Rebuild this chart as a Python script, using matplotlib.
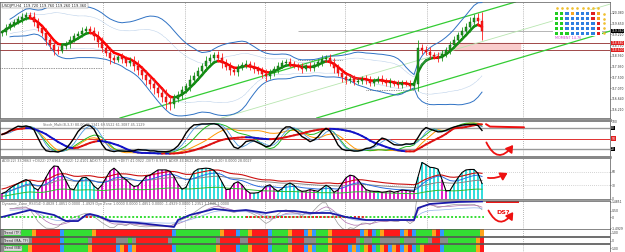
import numpy as np
import pandas as pd
import matplotlib
matplotlib.use("Agg")
import matplotlib.pyplot as plt
from matplotlib.colors import ListedColormap
from matplotlib.collections import LineCollection
from matplotlib.lines import Line2D

W, H = 625, 252

# H4 closes, one per bar
closes = [
    119.32, 119.48, 119.64, 119.72, 119.84, 119.92, 120.00, 119.92, 119.72, 119.48,
    119.28, 119.00, 118.80, 118.60, 118.56, 118.76, 118.84, 119.00, 119.16, 119.24,
    119.36, 119.44, 119.36, 119.16, 118.92, 118.68, 118.48, 118.28, 118.20, 118.32,
    118.24, 118.08, 118.16, 117.96, 117.80, 117.60, 117.40, 117.24, 117.08, 116.88,
    116.72, 116.52, 116.44, 116.64, 116.80, 117.00, 117.16, 117.40, 117.56, 117.76,
    117.96, 118.16, 118.28, 118.40, 118.28, 118.08, 117.92, 117.80, 117.72, 117.88,
    118.00, 118.04, 117.92, 117.84, 117.76, 117.64, 117.56, 117.68, 117.84, 117.96,
    118.08, 118.12, 118.04, 117.96, 117.92, 117.84, 117.96, 117.88, 118.00, 118.12,
    118.24, 118.28, 118.08, 117.88, 117.68, 117.52, 117.40, 117.44, 117.32, 117.36,
    117.44, 117.40, 117.28, 117.36, 117.44, 117.36, 117.28, 117.32, 117.24, 117.20,
    117.28, 117.24, 117.16, 117.24, 118.68, 118.60, 118.52, 118.40, 118.36, 118.28,
    118.44, 118.60, 118.80, 119.00, 119.20, 119.36, 119.52, 119.72, 119.88, 119.76,
    119.36,
]
# wick length beyond the body
spread = [
    0.10, 0.14, 0.08, 0.12, 0.10, 0.16, 0.12, 0.10, 0.18, 0.14,
    0.12, 0.20, 0.16, 0.22, 0.14, 0.10, 0.12, 0.16, 0.10, 0.12,
    0.14, 0.10, 0.12, 0.16, 0.20, 0.18, 0.14, 0.24, 0.12, 0.10,
    0.16, 0.12, 0.14, 0.18, 0.22, 0.16, 0.20, 0.18, 0.24, 0.16,
    0.22, 0.30, 0.26, 0.18, 0.14, 0.16, 0.12, 0.18, 0.14, 0.16,
    0.12, 0.18, 0.14, 0.10, 0.16, 0.20, 0.14, 0.18, 0.12, 0.16,
    0.10, 0.14, 0.12, 0.18, 0.12, 0.16, 0.20, 0.14, 0.12, 0.16,
    0.10, 0.12, 0.14, 0.10, 0.12, 0.16, 0.10, 0.14, 0.12, 0.10,
    0.16, 0.12, 0.14, 0.18, 0.14, 0.20, 0.16, 0.12, 0.14, 0.10,
    0.12, 0.16, 0.14, 0.12, 0.10, 0.14, 0.12, 0.16, 0.10, 0.14,
    0.12, 0.10, 0.14, 0.12, 0.30, 0.16, 0.14, 0.18, 0.12, 0.16,
    0.14, 0.12, 0.16, 0.14, 0.12, 0.16, 0.14, 0.18, 0.16, 0.20,
    0.36,
]

price_ticks = [120.08, 119.65, 119.22, 118.79, 118.36, 117.93, 117.50, 117.07, 116.64, 116.21]
last_price = 119.36
resist_levels = [118.88, 118.60]
support_segments = [(117.88, -0.5, 25), (118.20, 74, 85), (117.00, 91, 103)]
channel_upper = [(29.5, 115.88), (127.5, 120.48)]
channel_lower = [(77.0, 115.80), (151.25, 119.32)]
channel_mid = [(74.5, 116.80), (151.25, 120.40)]
grid_bars = [5, 25.25, 45.75, 65.75, 85.75, 106.25, 130.25]

# dynamic zone line, read at some bars
dyn_idx = [0, 7, 13, 16, 19, 21, 22, 24, 27, 34, 41, 43, 44, 47, 53, 58, 61, 66,
           69, 73, 77, 82, 86, 91, 96, 103, 104, 107, 114, 120]
dyn_val = [-0.23, 0.57, 0.00, -0.69, -0.69, 0.00, 0.11, -0.11, -0.69, -0.91, -1.26,
           -1.37, -0.57, 0.00, 0.69, 0.46, 0.57, 0.23, 0.46, 0.46, 0.23, 0.23, -0.23,
           -0.57, -0.57, -0.57, 0.80, 1.26, 1.49, 1.55]
dyn_level = -0.23
dyn_red_spans = [(20, 22.5), (61, 86), (88, 91)]

# currency strength grid: G green, B blue, O orange, R red
heat_rows = ["GGBOBBBRO", "GGBBBBBRO", "GGBBBBBBR", "GGBBBBBBR", "GGGBBBBBR"]

close = pd.Series(closes)
spr = pd.Series(spread)
opn = close.shift(1).fillna(close.iloc[0] - 0.06)
high = np.maximum(opn, close) + spr
low = np.minimum(opn, close) - spr
idx = np.arange(len(close))

fig = plt.figure(figsize=(6.25, 2.52), dpi=100)
fig.patch.set_facecolor("white")

LBL = 2.2


def fax(x0, y0, x1, y1):
    ax = fig.add_axes([x0 / W, 1 - y1 / H, (x1 - x0) / W, (y1 - y0) / H])
    ax.set_xlim(-0.5, 152)
    ax.set_xticks([])
    ax.yaxis.tick_right()
    ax.tick_params(axis="y", labelsize=LBL, length=1.0, width=0.4, pad=0.2, colors="#333333")
    for s in ax.spines.values():
        s.set_linewidth(0.5)
        s.set_color("#555555")
    for g in grid_bars:
        ax.axvline(g, color="#777777", lw=0.5, ls=(0, (1, 2)), zorder=0)
    return ax


def box(ax, y, txt, fc):
    ax.text(1.002, y, txt, transform=ax.get_yaxis_transform(), fontsize=LBL, color="white",
            va="center", ha="left", zorder=10,
            bbox=dict(boxstyle="square,pad=0.1", fc=fc, ec="none"))


def slope_line(ax, x, y, up_col, dn_col, lw):
    pts = np.column_stack([x, y])
    segs = np.stack([pts[:-1], pts[1:]], axis=1)
    cols = [up_col if d > 0 else dn_col for d in np.diff(y)]
    ax.add_collection(LineCollection(segs, colors=cols, linewidths=lw, capstyle="round"))


# ---------------- main price panel ----------------
ax = fax(0, 2, 610, 118)
ax.set_ylim(115.88, 120.52)
ax.set_yticks(price_ticks)
ax.set_yticklabels([f"{t:.3f}" for t in price_ticks])

ax.axhspan(resist_levels[1], resist_levels[0], xmin=(113.25 + 0.5) / 152.5,
           xmax=(129.5 + 0.5) / 152.5, color="#f9cccc", zorder=0)
for lv in resist_levels:
    ax.axhline(lv, color="#a04848", lw=0.7, zorder=1)
ax.hlines(last_price, 74, 152, color="#aaaaaa", lw=0.6, zorder=1)
for lv, a, b in support_segments:
    ax.hlines(lv, a, b, color="#333333", lw=0.5, ls=(0, (1, 1.5)), zorder=1)

ax.axline(*channel_upper, color="#33cc33", lw=0.9, zorder=2)
ax.axline(*channel_lower, color="#33cc33", lw=0.9, zorder=2)
ax.axline(*channel_mid, color="#b8e6b0", lw=0.6, zorder=2)

mid = close.rolling(20, min_periods=3).mean()
sd = close.rolling(20, min_periods=3).std()
ax.plot(idx, mid + 2.2 * sd, color="#2f72c4", lw=0.7, zorder=3)
ax.plot(idx, mid - 2.2 * sd, color="#2f72c4", lw=0.7, zorder=3)
ax.plot(idx, mid + 1.4 * sd, color="#7fa7d6", lw=0.4, ls=(0, (1, 1)), zorder=3)
ax.plot(idx, mid - 1.4 * sd, color="#7fa7d6", lw=0.4, ls=(0, (1, 1)), zorder=3)

up = close >= opn
ccol = np.where(up, "#1e9a1e", "#ff1e1e")
ax.vlines(idx, low, high, colors=ccol, lw=0.6, zorder=4)
ax.bar(idx, np.maximum(abs(close - opn), 0.02), bottom=np.minimum(opn, close), width=0.6,
       color=ccol, edgecolor=np.where(up, "#0d5a0d", "#cc0000"), linewidth=0.3, zorder=5)

ma = close.ewm(span=5).mean()
slope_line(ax, idx, ma.values, "#118a11", "#ff0000", 1.8)

ax.text(0.004, 0.985, "USDJPY,H4  119.720 119.760 119.260 119.360", transform=ax.transAxes,
        fontsize=2.6, color="#222222", va="top", ha="left",
        bbox=dict(boxstyle="square,pad=0.2", fc="white", ec="#777777", lw=0.3))
box(ax, last_price, "119.360", "black")
for lv in resist_levels:
    box(ax, lv, f"{lv:.3f}", "#e02020")
ax.text(141.5, 119.06, "MOMENT 14.76", fontsize=2.4, color="#d040d0", ha="center", va="center")

hmap = {"G": 0, "B": 1, "O": 2, "R": 3}
hgrid = np.array([[hmap[c] for c in r] for r in heat_rows])
hax = fig.add_axes([553 / W, 1 - 36 / H, 54 / W, 31 / H])
hax.pcolormesh(np.arange(10), np.arange(6), hgrid,
               cmap=ListedColormap(["#22cc22", "#2f7fe0", "#f5a623", "#e02020"]),
               edgecolors="white", linewidth=0.3, vmin=0, vmax=3)
hax.scatter(np.arange(9) + 0.5, np.full(9, -0.7), s=0.8, color="#f0c030")
hax.scatter(np.full(5, 9.7), np.arange(5) + 0.5, s=0.8, color="#f0c030")
hax.set_xlim(-0.2, 10.2)
hax.set_ylim(5.1, -1.3)
hax.axis("off")

# ---------------- stochastic panel ----------------
def stoch(n, s):
    hh = high.rolling(n, min_periods=1).max()
    ll = low.rolling(n, min_periods=1).min()
    k = 100 * (close - ll) / (hh - ll)
    return k.rolling(s, min_periods=1).mean()


sx = fax(0, 121, 610, 156)
sx.set_ylim(0, 100)
sx.set_yticks([100])
sx.set_yticklabels(["100"])
sx.axhline(80, color="#999999", lw=1.0)
sx.axhline(20, color="#999999", lw=1.0)
sx.axhline(50, color="#e03030", lw=0.7)
k_fast = stoch(8, 3)
sx.plot(idx, stoch(28, 6), color="#ff9900", lw=0.7)
sx.plot(idx, stoch(14, 5), color="#22bb22", lw=0.7)
sx.plot(idx, k_fast.rolling(3, min_periods=1).mean(), color="#4f9be0", lw=0.6)
slope_line(sx, idx, stoch(45, 10).values, "#dd1111", "#1212c8", 1.4)
sx.plot(idx, k_fast, color="black", lw=1.0)
sx.text(0.07, 0.97, "Stoch_Multi(8,3,3) 80.00 76.1341 69.5522 61.3087 45.1129",
        transform=sx.transAxes, fontsize=2.4, color="#666666", va="top")
box(sx, 80, "80", "black")
box(sx, 50, "50", "#e02020")
box(sx, 20, "20", "black")

# ---------------- trend strength histogram panel ----------------
ax3 = fax(0, 158, 610, 199)
ax3.set_ylim(0, 90)
ax3.set_yticks([60, 30, 0])
for lv in (60, 30):
    ax3.axhline(lv, color="#aaaaaa", lw=0.5, ls=(0, (1, 2)))
mom = close - close.shift(6).fillna(close.iloc[0])
strength = (mom.abs() * 48 + 12).rolling(2, min_periods=1).mean()
ax3.bar(idx, strength, width=0.35, color=np.where(mom > 0, "#33dddd", "#e020c8"), zorder=2)
ax3.plot(idx, strength.ewm(span=40).mean(), color="#888888", lw=0.7, zorder=3)
ax3.plot(idx, strength.ewm(span=12).mean(), color="#2b6de0", lw=0.7, zorder=3)
ax3.plot(idx, strength.ewm(span=20).mean() + 10, color="#cc1010", lw=0.8, zorder=3)
ax3.plot(idx, strength.ewm(span=30).mean() * 0.5, color="#33bb33", lw=0.7, zorder=3)
ax3.plot(idx, strength, color="black", lw=0.8, zorder=4)
ax3.text(0.004, 0.98, "ADX(22) 33.9863 +DI(22) 27.6964 -DI(22) 12.4101 ADX(7) 52.2736 "
         "+DI(7) 41.0922 -DI(7) 8.9371 ADXR 44.8622 AO-arrow(1,4,20) 0.0000 28.0027",
         transform=ax3.transAxes, fontsize=2.4, color="#666666", va="top")

# ---------------- dynamic zone panel ----------------
ax4 = fax(0, 201, 610, 229)
ax4.set_ylim(-1.6, 1.6)
ax4.set_yticks([1.49, 0.5, -0.23, -1.49])
ax4.set_yticklabels(["1.4851", "0.50", "0", "-1.4929"])
z = (close - mid) / sd
ax4.plot(idx, z * 0.75, color="#999999", lw=0.5)
ax4.plot(idx, z.ewm(span=5).mean() * 0.7, color="#b070b0", lw=0.5)
ax4.plot(idx, z.ewm(span=10).mean() * 0.55, color="#8fb0e8", lw=0.5)
ax4.hlines(dyn_level, -0.5, 120.5, color="#33dd33", lw=1.4, ls=(0, (1, 1)), zorder=2)
for a, b in dyn_red_spans:
    ax4.hlines(dyn_level, a, b, color="#ee2020", lw=1.4, ls=(0, (1, 1)), zorder=3)
ax4.plot(dyn_idx, dyn_val, color="#1a1aa8", lw=1.3, zorder=4)
ax4.text(0.004, 0.97, "Dynamic_Zone_RSI(14) 0.4828 1.4851 0.0000 -1.4929 Dyn Zone 1.0000 "
         "0.0000 1.4851 0.0000 -1.4929 0.0000 1.2351 1.1840 1.0000",
         transform=ax4.transAxes, fontsize=2.4, color="#666666", va="top")

# ---------------- trend strips ----------------
def trend_state(sig, flat=0.0):
    d = sig.diff().fillna(0)
    s = np.sign(np.where(d.abs() <= flat, 0, d))
    prev = np.roll(s, 1)
    prev[0] = s[0]
    out = np.where(s > 0, 1, 0)
    out = np.where((s > 0) & (prev < 0), 3, out)
    out = np.where((s < 0) & (prev > 0), 2, out)
    out = np.where(s == 0, 4, out)
    return out


e6 = close.ewm(span=6).mean()
e12 = close.ewm(span=12).mean()
strips = np.vstack([
    trend_state(close.ewm(span=3).mean()),
    trend_state(e6 - e12, flat=0.012),
    trend_state(close),
])
tax = fax(0, 229, 610, 252)
tax.imshow(strips, aspect="auto", interpolation="nearest", extent=(-0.5, 120.5, 3, 0),
           cmap=ListedColormap(["#ff1a1a", "#33dd33", "#ffa31a", "#3399ff", "#8c8c8c"]),
           vmin=0, vmax=4)
tax.set_ylim(3, 0)
tax.set_yticks([0.5, 1.5, 2.5])
tax.set_yticklabels(["1.00", "0", "1.00"])
for r in (1, 2):
    tax.axhline(r, color="#555555", lw=1.2)
for r, lab in enumerate(["Trend (TF)", "Trend (MA, TF)", "Trend (BB)"]):
    tax.text(0.5, r + 0.5, lab, fontsize=2.4, color="#222222", va="center", ha="left",
             bbox=dict(boxstyle="square,pad=0.15", fc="#dddddd", ec="#888888", lw=0.3))

# ---------------- hand drawn notes ----------------
red = "#ee1111"
sx.plot([121.0, 122.0, 126.0, 130.5], [91, 84, 83, 82], color=red, lw=1.4, solid_capstyle="round")
sx.annotate("", xy=(128.2, 38), xytext=(120.8, 46),
            arrowprops=dict(arrowstyle="-|>,head_width=0.25,head_length=0.4", color=red, lw=1.3,
                            connectionstyle="arc3,rad=0.9"))
ax3.annotate("", xy=(127.0, 60), xytext=(120.8, 48),
             arrowprops=dict(arrowstyle="-|>,head_width=0.25,head_length=0.4", color=red, lw=1.3,
                             connectionstyle="angle3,angleA=-20,angleB=30"))
ax4.plot([121.25, 129.0], [1.45, 1.45], color=red, lw=1.4)
ax4.annotate("", xy=(128.2, 0.6), xytext=(121.3, 0.8),
             arrowprops=dict(arrowstyle="-|>,head_width=0.25,head_length=0.4", color=red, lw=1.3,
                             connectionstyle="arc3,rad=0.9"))
ax4.text(125.4, 0.25, "DS?", fontsize=4.5, color=red, ha="center", va="center", fontweight="bold")

# panel separators
for yy, lw in ((119.5, 2.0), (157.0, 1.8), (200.0, 1.2)):
    fig.add_artist(Line2D([0, 610 / W], [1 - yy / H] * 2, color="#888888", lw=lw))

fig.savefig("out.png", dpi=100)
